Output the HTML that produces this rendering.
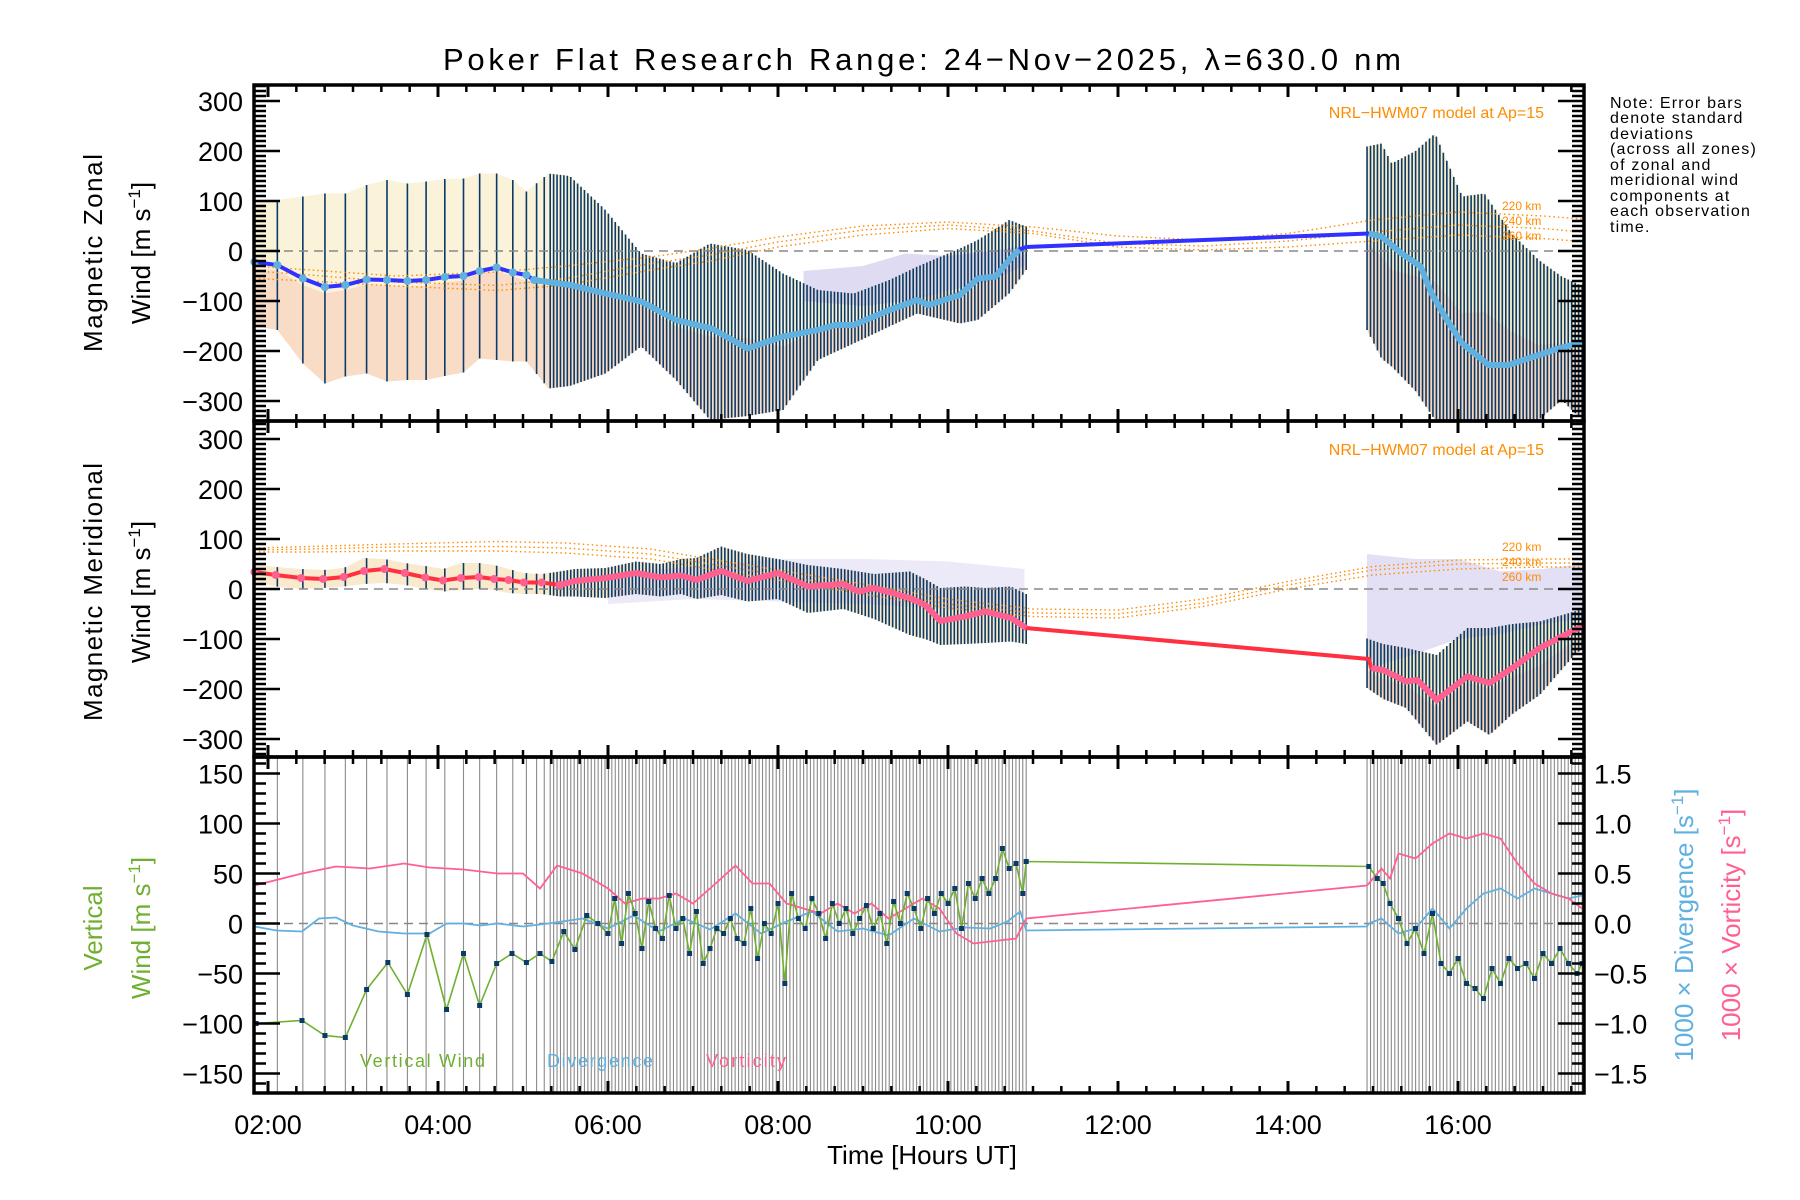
<!DOCTYPE html>
<html><head><meta charset="utf-8">
<style>
html,body{margin:0;padding:0;background:#fff;}
svg{display:block;}
text{font-family:"Liberation Sans",sans-serif;}
</style></head>
<body>
<svg id="chart" width="1800" height="1200" viewBox="0 0 1800 1200" xmlns="http://www.w3.org/2000/svg">
<text x="922" y="70" font-size="31" text-anchor="middle" fill="#000" textLength="958" lengthAdjust="spacing">Poker Flat Research Range: 24−Nov−2025, λ=630.0 nm</text>
<g id="layer"></g>
<g font-size="16" fill="#000" letter-spacing="1.2">
<text x="1610" y="108">Note: Error bars</text>
<text x="1610" y="123">denote standard</text>
<text x="1610" y="139">deviations</text>
<text x="1610" y="154">(across all zones)</text>
<text x="1610" y="170">of zonal and</text>
<text x="1610" y="185">meridional wind</text>
<text x="1610" y="201">components at</text>
<text x="1610" y="216">each observation</text>
<text x="1610" y="232">time.</text>
</g>
<g font-size="26" fill="#000" text-anchor="middle">
<text transform="translate(102,253) rotate(-90)" textLength="198">Magnetic Zonal</text>
<text transform="translate(150,253) rotate(-90)">Wind [m s<tspan dy="-10" font-size="17">−1</tspan><tspan dy="10">]</tspan></text>
</g>
<g font-size="26" fill="#000" text-anchor="middle">
<text transform="translate(102,592) rotate(-90)" textLength="258">Magnetic Meridional</text>
<text transform="translate(150,592) rotate(-90)">Wind [m s<tspan dy="-10" font-size="17">−1</tspan><tspan dy="10">]</tspan></text>
</g>
<g font-size="26" fill="#70b030" text-anchor="middle">
<text transform="translate(102,928) rotate(-90)">Vertical</text>
<text transform="translate(150,928) rotate(-90)">Wind [m s<tspan dy="-10" font-size="17">−1</tspan><tspan dy="10">]</tspan></text>
</g>
<text transform="translate(1693,925) rotate(-90)" font-size="26" fill="#60b0e0" text-anchor="middle">1000 × Divergence [s<tspan dy="-10" font-size="17">−1</tspan><tspan dy="10">]</tspan></text>
<text transform="translate(1740,925) rotate(-90)" font-size="26" fill="#ff6090" text-anchor="middle">1000 × Vorticity [s<tspan dy="-10" font-size="17">−1</tspan><tspan dy="10">]</tspan></text>
<text x="922" y="1164" font-size="26" text-anchor="middle" fill="#000">Time [Hours UT]</text>
<text x="1544" y="118" font-size="16" text-anchor="end" fill="#ff8c00">NRL−HWM07 model at Ap=15</text>
<text x="1544" y="455" font-size="16" text-anchor="end" fill="#ff8c00">NRL−HWM07 model at Ap=15</text>
<g font-size="12" fill="#ff8c00">
<text x="1502" y="210">220 km</text><text x="1502" y="225">240 km</text><text x="1502" y="240">260 km</text></g>
<g font-size="12" fill="#ff8c00">
<text x="1502" y="551">220 km</text><text x="1502" y="566">240 km</text><text x="1502" y="581">260 km</text></g>
<g font-size="18">
<text x="360" y="1067" fill="#70b030" textLength="125">Vertical Wind</text>
<text x="547" y="1067" fill="#60b0e0" textLength="106">Divergence</text>
<text x="706" y="1067" fill="#ff6090" textLength="80">Vorticity</text>
</g>
</svg>
<script>
// ---------------- data ----------------
const xTickLabels = ["02:00","04:00","06:00","08:00","10:00","12:00","14:00","16:00"];
const xTickHours = [2,4,6,8,10,12,14,16];
const windTicks = [-300,-200,-100,0,100,200,300];
const vertTicks = [-150,-100,-50,0,50,100,150];
const rightTicks = ["-1.5","-1.0","-0.5","0.0","0.5","1.0","1.5"];

const sparseObs = [1.84,2.11,2.41,2.67,2.91,3.16,3.40,3.64,3.86,4.08,4.30,4.49,4.69,4.88,5.04,5.16,5.25];
const densePeriods = [[5.32,10.92,140],[14.93,17.46,63]];

const zonalT = [1.84,2.11,2.41,2.67,2.91,3.16,3.40,3.64,3.86,4.08,4.30,4.49,4.69,4.88,5.04,5.13,5.55,5.97,6.39,6.80,7.22,7.64,8.06,8.47,8.68,8.89,9.31,9.64,9.77,10.14,10.35,10.56,10.72,10.84,10.92];
const zonalMean = [-22,-28,-55,-72,-68,-57,-58,-60,-58,-52,-50,-40,-33,-43,-48,-58,-68,-85,-101,-138,-155,-195,-171,-158,-148,-148,-118,-98,-108,-88,-55,-51,-18,3,8];
const zonalT2 = [14.95,15.10,15.33,15.56,15.69,15.87,16.05,16.36,16.59,16.95,17.18,17.46];
const zonalMean2 = [35,29,-4,-31,-85,-138,-185,-228,-228,-208,-195,-183];
const zBandT = [1.84,2.11,2.41,2.67,2.91,3.16,3.40,3.64,3.86,4.08,4.30,4.49,4.69,4.88,5.04,5.30,5.55,5.97,6.39,6.80,7.20,7.64,8.06,8.47,8.89,9.31,9.64,10.14,10.35,10.72,10.92];
const zHi = [100,102,109,115,115,132,142,135,139,144,145,155,155,142,119,155,150,82,-5,-24,15,2,-45,-78,-85,-58,-31,5,22,62,49];
const zLo = [-150,-158,-225,-265,-251,-245,-261,-258,-258,-250,-243,-215,-218,-221,-221,-275,-270,-245,-191,-258,-338,-330,-318,-218,-185,-151,-125,-145,-138,-85,-38];
const zBandT2 = [14.93,15.10,15.22,15.50,15.73,16.05,16.31,16.63,16.95,17.22,17.46];
const zHi2 = [209,215,175,200,235,109,115,35,-18,-51,-70];
const zLo2 = [-158,-215,-231,-280,-338,-338,-338,-338,-338,-298,-338];

const merT = [1.84,2.09,2.39,2.65,2.89,3.13,3.37,3.61,3.85,4.06,4.27,4.48,4.66,4.83,5.01,5.22,5.43,5.61,5.97,6.33,6.62,6.86,7.04,7.33,7.64,8.00,8.35,8.77,8.95,9.13,9.55,9.73,9.91,10.20,10.44,10.74,10.92];
const merMean = [34,28,22,20,24,36,40,32,23,17,22,24,20,18,13,13,8,16,22,32,23,27,18,36,16,32,5,10,-5,2,-18,-32,-64,-55,-45,-58,-78];
const merT2 = [14.95,14.98,15.12,15.39,15.52,15.75,16.11,16.37,16.64,16.96,17.37,17.46];
const merMean2 = [-140,-158,-162,-185,-182,-222,-175,-188,-158,-118,-82,-76];
const mBandT = [1.84,2.09,2.39,2.65,2.89,3.13,3.37,3.61,3.85,4.06,4.27,4.48,4.66,4.83,5.01,5.22,5.43,5.61,5.97,6.33,6.62,6.86,7.04,7.33,7.64,8.00,8.35,8.77,9.13,9.55,9.73,9.91,10.20,10.44,10.74,10.92];
const mHi = [50,44,40,38,42,62,60,52,46,40,52,52,48,40,32,30,35,40,42,55,50,60,62,85,70,60,48,40,30,35,20,2,5,2,5,-10];
const mLo = [15,5,0,2,5,10,12,8,0,-5,-2,0,-2,-8,-10,-10,-15,-15,-18,-10,-15,-10,-20,-12,-25,-20,-48,-40,-60,-92,-100,-112,-110,-108,-105,-110];
const mBandT2 = [14.93,15.12,15.39,15.75,16.11,16.37,16.64,16.96,17.37,17.46];
const mHi2 = [-99,-110,-118,-132,-78,-78,-70,-65,-45,-40];
const mLo2 = [-198,-220,-238,-312,-265,-292,-250,-212,-132,-120];

const zScatT = [8.3,9.0,9.5,10.0,10.5,10.9];
const zScatHi = [-40,-30,-5,-10,0,10];
const zScatLo = [-100,-110,-100,-80,-60,-30];
const mScatT = [6.0,7.0,8.0,9.0,10.0,10.9];
const mScatHi = [30,45,60,60,55,40];
const mScatLo = [-30,-20,-25,-30,-40,-55];
const mScatT2 = [14.93,15.5,16.0,16.5,17.0,17.46];
const mScatHi2 = [70,60,60,35,40,50];
const mScatLo2 = [-160,-130,-100,-90,-70,-60];

const modelT = [1.84,2.5,3.5,4.7,5.5,6.5,7.2,8.0,9.0,10.0,11.0,12.0,13.0,14.0,15.0,16.0,17.0,17.46];
const zModel220 = [-30,-38,-50,-42,-30,-12,5,28,50,58,48,30,22,35,62,78,70,64];
const zModel240 = [-40,-48,-62,-69,-55,-25,-8,18,42,52,40,15,10,20,38,52,45,38];
const zModel260 = [-55,-60,-70,-79,-68,-38,-20,8,32,45,35,8,2,8,20,32,25,19];
const mModel220 = [82,85,90,95,92,80,60,38,10,-20,-40,-42,-20,15,45,58,60,60];
const mModel240 = [78,80,84,85,82,70,50,28,0,-30,-48,-50,-28,8,38,50,52,52];
const mModel260 = [74,74,76,76,72,60,40,18,-10,-38,-55,-58,-35,0,28,40,44,44];

const vertT = [1.86,2.40,2.67,2.91,3.16,3.41,3.64,3.87,4.10,4.30,4.49,4.69,4.87,5.04,5.20,5.34,5.48,5.61,5.75,5.88,
 6.00,6.08,6.16,6.24,6.32,6.40,6.48,6.56,6.64,6.72,6.80,6.88,6.96,7.04,7.12,7.20,7.28,7.36,7.44,7.52,7.60,7.68,7.76,7.84,7.92,8.00,8.08,8.16,8.24,8.32,8.40,8.48,8.56,8.64,8.72,8.80,8.88,8.96,9.04,9.12,9.20,9.28,9.36,9.44,9.52,9.60,9.68,9.76,9.84,9.92,10.00,10.08,10.16,10.24,10.32,10.40,10.48,10.56,10.64,10.72,10.80,10.88,10.92];
const vertW = [-100,-97,-112,-114,-66,-39,-71,-11,-86,-30,-82,-40,-30,-39,-30,-38,-8,-26,8,0,
 -10,25,-20,30,10,-25,22,-5,-15,28,-5,5,-30,12,-40,-25,-5,-10,5,-15,-20,15,-35,0,-10,20,-60,30,5,-5,25,10,-15,20,0,15,-10,5,18,-5,10,-20,22,0,30,15,-5,25,10,30,20,35,-5,40,25,45,30,45,75,55,60,30,62];
const vertT2 = [14.95,15.05,15.12,15.20,15.30,15.40,15.50,15.60,15.70,15.80,15.90,16.00,16.10,16.20,16.30,16.40,16.50,16.60,16.70,16.80,16.90,17.00,17.10,17.20,17.30,17.40,17.46];
const vertW2 = [57,45,40,20,5,-20,-5,-30,10,-40,-50,-35,-60,-65,-75,-45,-60,-35,-45,-40,-55,-30,-40,-25,-40,-50,-40];
const divT = [1.84,2.10,2.40,2.60,2.80,3.00,3.30,3.60,3.90,4.10,4.30,4.50,4.70,5.00,5.30,5.70,6.00,6.30,6.60,6.90,7.20,7.50,7.80,8.10,8.40,8.70,9.00,9.30,9.60,9.90,10.20,10.50,10.70,10.85,10.92,14.93];
const divV = [-3,-7,-8,5,6,-2,-8,-10,-10,0,0,-2,0,-3,0,5,-5,8,-8,5,-6,10,-10,2,12,-8,-5,-12,5,-8,-4,-5,2,12,-7,-3];
const divT2 = [14.95,15.1,15.3,15.5,15.7,15.9,16.1,16.3,16.5,16.7,16.9,17.1,17.3,17.46];
const divV2 = [0,5,-10,-5,15,-5,15,30,35,25,35,30,25,28];
const vorT = [1.84,2.40,2.80,3.20,3.60,3.90,4.30,4.70,5.00,5.20,5.40,5.70,6.00,6.20,6.40,6.60,6.80,7.00,7.20,7.50,7.70,7.90,8.10,8.30,8.50,8.70,8.90,9.10,9.30,9.50,9.70,9.90,10.10,10.30,10.50,10.80,10.92,14.93];
const vorV = [38,50,57,55,60,56,54,50,50,35,58,50,35,20,25,25,30,20,35,58,40,40,20,15,10,20,10,20,5,15,25,15,-10,-20,-18,-15,5,38];
const vorT2 = [14.95,15.1,15.2,15.3,15.5,15.7,15.9,16.1,16.3,16.5,16.7,16.9,17.1,17.3,17.46];
const vorV2 = [40,55,45,70,65,80,90,85,90,85,60,40,30,25,15];

// ---------------- rendering ----------------
const NS = "http://www.w3.org/2000/svg";
const layer = document.getElementById("layer");
const XL = 254, XR = 1584;
const P = [{top:85,bot:421,zero:251,k:0.5},{top:421,bot:757,zero:589,k:0.5},{top:757,bot:1093,zero:923.5,k:1}];
function xS(t){return 268 + (t-2)*85.0;}
function yS(p,v){return P[p].zero - v*P[p].k;}
function el(tag, attrs, parent){
  const e = document.createElementNS(NS, tag);
  for (const k in attrs) e.setAttribute(k, attrs[k]);
  (parent||layer).appendChild(e);
  return e;
}
function interp(T, V, t){
  if (t<=T[0]) return V[0];
  for (let i=1;i<T.length;i++) if (t<=T[i]) {const f=(t-T[i-1])/(T[i]-T[i-1]); return V[i-1]+f*(V[i]-V[i-1]);}
  return V[V.length-1];
}
function ptsStr(p,T,V){return T.map((t,i)=>xS(t).toFixed(1)+","+yS(p,V[i]).toFixed(1)).join(" ");}
function clip(p){
  const id="clip"+p;
  const cp = el("clipPath",{id:id});
  el("rect",{x:XL,y:P[p].top,width:XR-XL,height:P[p].bot-P[p].top},cp);
  return "url(#"+id+")";
}
const obsTimes = sparseObs.slice();
densePeriods.forEach(d=>{for(let i=0;i<d[2];i++) obsTimes.push(d[0]+(d[1]-d[0])*i/(d[2]-1));});
const obsDense2 = obsTimes.filter(t=>t>14);

function band(g,p,T,Hi,Lo,fill,op,name){
  const pts = T.map((t,i)=>xS(t)+","+yS(p,Hi[i])).concat(T.slice().reverse().map((t,j)=>{const i=T.length-1-j;return xS(t)+","+yS(p,Lo[i]);})).join(" ");
  const b = el("polygon",{points:pts,fill:fill,opacity:op},g);
  
  
}
function errorBars(g,p,times,T,Hi,Lo,name){
  times.forEach(t=>{
    if (t<T[0]-0.01 || t>T[T.length-1]+0.01) return;
    const l = el("line",{x1:xS(t),x2:xS(t),y1:yS(p,interp(T,Hi,t)),y2:yS(p,interp(T,Lo,t)),stroke:"#0a3a68","stroke-width":1.6},g);
    
    
  });
}
function dashedZero(p){
  const z = el("line",{x1:XL,x2:XR,y1:yS(p,0),y2:yS(p,0),stroke:"#888","stroke-width":1.5,"stroke-dasharray":"9,6"});
  
  
}
function models(g,p,arrs){
  arrs.forEach((a,i)=>{
    const m = el("polyline",{points:ptsStr(p,modelT,a),fill:"none",stroke:"#ff8c00","stroke-width":1.4,"stroke-dasharray":"1.5,3"},g);
    
    
  });
}

// ---- panel 1 ----
{
  const g = el("g",{"clip-path":clip(0)});
  
  
  band(g,0,zBandT,zHi,zLo,"#f6e6b4",0.5,"zonal-spread");
  band(g,0,zBandT2,zHi2,zLo2,"#f6e6b4",0.7,"zonal-spread");
  band(g,0,zBandT,zBandT.map((t,i)=>(zHi[i]+zLo[i])/2-10),zLo,"#f8c0b0",0.45,"zonal-spread-low");
  band(g,0,zBandT2,zBandT2.map((t,i)=>(zHi2[i]+zLo2[i])/2-10),zLo2,"#f8c0b0",0.5,"zonal-spread-low");
  band(g,0,zScatT,zScatHi,zScatLo,"#c0b8e8",0.5,"zonal-zone-scatter");
  errorBars(g,0,obsTimes.filter(t=>t<11),zBandT,zHi,zLo,"zonal-error-bar");
  errorBars(g,0,obsDense2,zBandT2,zHi2,zLo2,"zonal-error-bar");
}
dashedZero(0);
models(layer,0,[zModel220,zModel240,zModel260]);
{
  const all = zonalT.concat(zonalT2), allV = zonalMean.concat(zonalMean2);
  const l = el("polyline",{points:ptsStr(0,all,allV),fill:"none",stroke:"#3030ff","stroke-width":4});
  
  
  const iA = zonalT.findIndex(t=>t>=5.1);
  const l2 = el("polyline",{points:ptsStr(0,zonalT.slice(iA,zonalT.length-1),zonalMean.slice(iA,zonalMean.length-1)),fill:"none",stroke:"#60b0e0","stroke-width":6});
  
  
  const l3 = el("polyline",{points:ptsStr(0,zonalT2,zonalMean2),fill:"none",stroke:"#60b0e0","stroke-width":6});
  
  
  zonalT.slice(0,16).forEach((t,i)=>{
    const c = el("circle",{cx:xS(t),cy:yS(0,zonalMean[i]),r:4,fill:"#60b0e0"});
    
    
  });
}

// ---- panel 2 ----
{
  const g = el("g",{"clip-path":clip(1)});
  
  
  band(g,1,mBandT,mHi,mLo,"#f6e0b8",0.7,"meridional-spread");
  band(g,1,mBandT2,mHi2,mLo2,"#f6e6b4",0.8,"meridional-spread");
  band(g,1,mBandT2,mBandT2.map((t,i)=>(mHi2[i]+mLo2[i])/2-15),mLo2,"#f8c0b0",0.5,"meridional-spread-low");
  band(g,1,mScatT,mScatHi,mScatLo,"#c8c0ea",0.35,"meridional-zone-scatter");
  band(g,1,mScatT2,mScatHi2,mScatLo2,"#c8c0ea",0.5,"meridional-zone-scatter");
  errorBars(g,1,obsTimes.filter(t=>t<11),mBandT,mHi,mLo,"meridional-error-bar");
  errorBars(g,1,obsDense2,mBandT2,mHi2,mLo2,"meridional-error-bar");
}
dashedZero(1);
models(layer,1,[mModel220,mModel240,mModel260]);
{
  const all = merT.concat(merT2), allV = merMean.concat(merMean2);
  const l = el("polyline",{points:ptsStr(1,all,allV),fill:"none",stroke:"#ff3040","stroke-width":4});
  
  
  const iA = merT.findIndex(t=>t>=5.4);
  const l2 = el("polyline",{points:ptsStr(1,merT.slice(iA),merMean.slice(iA)),fill:"none",stroke:"#ff6090","stroke-width":6});
  
  
  const l3 = el("polyline",{points:ptsStr(1,merT2.slice(1),merMean2.slice(1)),fill:"none",stroke:"#ff6090","stroke-width":6});
  
  
  merT.slice(0,17).forEach((t,i)=>{
    const c = el("circle",{cx:xS(t),cy:yS(1,merMean[i]),r:4,fill:"#ff6090"});
    
    
  });
}

// ---- panel 3 ----
{
  const g = el("g",{"clip-path":clip(2)});
  
  
  obsTimes.forEach(t=>{
    const l = el("line",{x1:xS(t),x2:xS(t),y1:P[2].top,y2:P[2].bot,stroke:"#8a8a8a","stroke-width":1.1},g);
    
    
  });
}
dashedZero(2);
{
  const d = el("polyline",{points:ptsStr(2,divT.concat(divT2),divV.concat(divV2)),fill:"none",stroke:"#60b0e0","stroke-width":1.8});
  
  
  const v = el("polyline",{points:ptsStr(2,vorT.concat(vorT2),vorV.concat(vorV2)),fill:"none",stroke:"#ff6090","stroke-width":1.8});
  
  
  const w = el("polyline",{points:ptsStr(2,vertT.concat(vertT2),vertW.concat(vertW2)),fill:"none",stroke:"#70b030","stroke-width":1.6});
  
  
  const allW = vertW.concat(vertW2);
  vertT.concat(vertT2).forEach((t,i)=>{
    const r = el("rect",{x:xS(t)-2.5,y:yS(2,allW[i])-2.5,width:5,height:5,fill:"#0a3a68"});
    
    
  });
}

// ---- axes ----
const ax = el("g",{});


function tick(x1,y1,x2,y2,w){el("line",{x1:x1,y1:y1,x2:x2,y2:y2,stroke:"#000","stroke-width":w||2},ax);}
P.forEach((p,pi)=>{
  for (let m=0; ; m++){
    const t = 2 + (m-1)*(1/3);
    const x = xS(t);
    if (x>XR) break;
    if (x<XL) continue;
    const major = Math.abs(t/2 - Math.round(t/2))<1e-6;
    const L = major?12:7;
    tick(x,p.top,x,p.top+L,major?3:2.5);
    tick(x,p.bot,x,p.bot-L,major?3:2.5);
  }
  for (let v=-340; v<=340; v+=10){
    const y = yS(pi,v);
    if (y<p.top+1 || y>p.bot-1) continue;
    const major = (pi<2 ? v%100===0 : v%50===0);
    const L = major?26:12;
    tick(XL,y,XL+L,y,2.5);
    if (pi<2) tick(XR,y,XR-L,y,2.5);
  }
  if (pi===2){
    for (let v=-160; v<=160; v+=10){
      const y = yS(2,v); if (y<p.top+1||y>p.bot-1) continue;
      const major = v%50===0; tick(XR,y,XR-(major?26:12),y,2.5);
    }
  }
  const fr = el("rect",{x:XL,y:p.top,width:XR-XL,height:p.bot-p.top,fill:"none",stroke:"#000","stroke-width":3.5},ax);
  
  
});
const lab = el("g",{"font-size":"27",fill:"#000"});


[0,1].forEach(pi=>windTicks.forEach(v=>{
  const t = el("text",{x:243,y:yS(pi,v)+10,"text-anchor":"end"},lab);
  t.textContent = (v<0?"−":"")+Math.abs(v);
  
  
}));
vertTicks.forEach(v=>{
  const t = el("text",{x:243,y:yS(2,v)+10,"text-anchor":"end"},lab);
  t.textContent = (v<0?"−":"")+Math.abs(v);
  
  
});
rightTicks.forEach((s,i)=>{
  const t = el("text",{x:1594,y:yS(2,parseFloat(s)*100)+10,"text-anchor":"start"},lab);
  t.textContent = s.replace("-","−");
  
  
});
xTickLabels.forEach((s,i)=>{
  const t = el("text",{x:xS(xTickHours[i]),y:1134,"text-anchor":"middle"},lab);
  t.textContent = s;
  
  
});
</script>
</body></html>
